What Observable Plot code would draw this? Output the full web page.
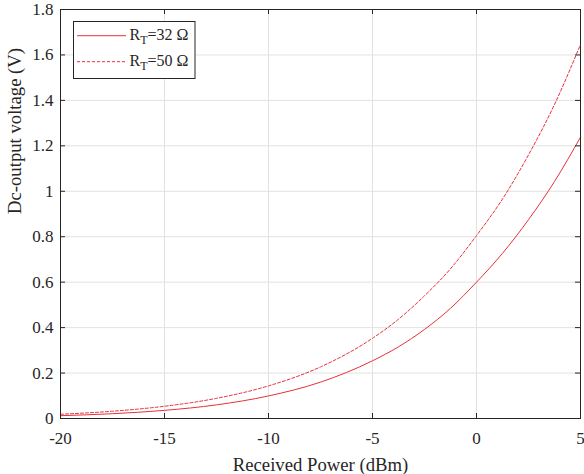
<!DOCTYPE html>
<html><head><meta charset="utf-8">
<script src="https://cdn.jsdelivr.net/npm/d3@7"></script>
<script src="https://cdn.jsdelivr.net/npm/@observablehq/plot@0.6"></script>
<style>
body{margin:0;background:#fff;}
#chart{position:relative;width:584px;height:474px;}
</style></head><body><div id="chart"></div>
<script>
// Data
const powerDbm = [-20, -17.5, -15, -12.5, -10, -7.5, -5, -3.75, -2.5, -1.25, 0, 1.25, 2.5, 3.75, 5];
const vout32   = [0.0124, 0.0211, 0.0358, 0.060, 0.0993, 0.160, 0.254, 0.3155, 0.392, 0.485, 0.600, 0.727, 0.875, 1.043, 1.238];
const vout50   = [0.0187, 0.032, 0.0539, 0.0888, 0.1435, 0.227, 0.353, 0.437, 0.540, 0.659, 0.805, 0.966, 1.160, 1.382, 1.646];
const xTicks = [-20, -15, -10, -5, 0, 5];
const yTicks = [0, 0.2, 0.4, 0.6, 0.8, 1, 1.2, 1.4, 1.6, 1.8];
const xLabel = "Received Power (dBm)";
const yLabel = "Dc-output voltage (V)";
const legendLoads = ["32", "50"];

const W = 584, H = 474, mL = 60, mR = 4, mT = 9, mB = 56;
const iw = W - mL - mR, ih = H - mT - mB;
const RED = "#e8303c";
const INK = "#262626";
const FONT = "'Liberation Serif', 'Times New Roman', serif";

const plot = Plot.plot({
  width: W, height: H,
  marginLeft: mL, marginRight: mR, marginTop: mT, marginBottom: mB,
  style: {fontFamily: FONT, fontSize: "17px", color: INK, background: "#fff"},
  x: {domain: [-20, 5]},
  y: {domain: [0, 1.8]},
  marks: [
    Plot.gridX(xTicks, {stroke: "#e2e2e2", strokeOpacity: 1}),
    Plot.gridY(yTicks, {stroke: "#e2e2e2", strokeOpacity: 1}),
    Plot.line(powerDbm, {x: d => d, y: (d, i) => vout32[i], stroke: RED, strokeWidth: 1, curve: "monotone-x"}),
    Plot.line(powerDbm, {x: d => d, y: (d, i) => vout50[i], stroke: RED, strokeWidth: 1, strokeDasharray: "3,2", curve: "monotone-x"}),
    Plot.ruleX(xTicks, {x: d => d, insetTop: ih - 5, stroke: INK}),
    Plot.ruleX(xTicks, {x: d => d, insetBottom: ih - 5, stroke: INK}),
    Plot.ruleY(yTicks, {y: d => d, insetRight: iw - 5, stroke: INK}),
    Plot.ruleY(yTicks, {y: d => d, insetLeft: iw - 5, stroke: INK}),
    Plot.frame({stroke: INK}),
    Plot.axisX(xTicks, {tickSize: 0, tickPadding: 13.4, label: null, tickFormat: d => String(d)}),
    Plot.axisY(yTicks, {tickSize: 0, tickPadding: 7, label: null, tickFormat: d => String(d)}),
    Plot.text([xLabel], {text: d => d, frameAnchor: "bottom", dy: 46.5, lineAnchor: "middle", fontSize: 18.7, fill: INK}),
    Plot.text([yLabel], {text: d => d, frameAnchor: "left", rotate: -90, dx: -45.5, lineAnchor: "middle", fontSize: 18.7, fill: INK})
  ]
});
document.getElementById("chart").appendChild(plot);

// Legend (boxed, top-left, as in the reference)
const svg = d3.select(plot);
const lg = svg.append("g").attr("font-family", FONT).attr("font-size", 16)
  .attr("fill", INK).attr("text-anchor", "start");
lg.append("rect").attr("x", 73.5).attr("y", 21.5).attr("width", 121.5).attr("height", 57)
  .attr("fill", "#fff").attr("stroke", INK);
legendLoads.forEach((r, i) => {
  const cy = 35.7 + i * 26;
  lg.append("line").attr("x1", 77).attr("x2", 126).attr("y1", cy).attr("y2", cy)
    .attr("stroke", RED).attr("stroke-width", 1)
    .attr("stroke-dasharray", i === 1 ? "3,2" : null);
  const t = lg.append("text").attr("x", 129.5).attr("y", cy + 3.8).attr("text-anchor", "start");
  t.append("tspan").text("R");
  t.append("tspan").attr("font-size", 12).attr("dy", 4).text("T");
  t.append("tspan").attr("dy", -4).text("=" + r + " Ω");
});
</script>
</body></html>
